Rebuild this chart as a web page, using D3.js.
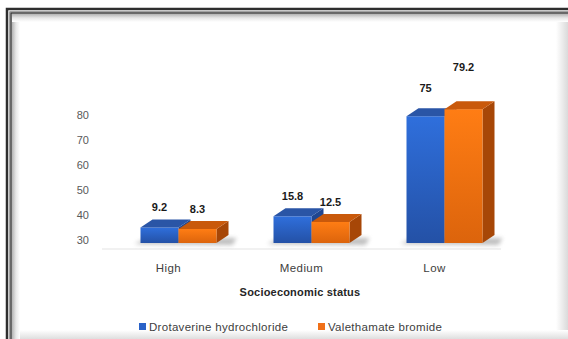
<!DOCTYPE html>
<html>
<head>
<meta charset="utf-8">
<script src="https://cdn.jsdelivr.net/npm/d3@7/dist/d3.min.js"></script>
<style>
  html, body { margin: 0; padding: 0; background: #fff; }
  svg { display: block; font-family: "Liberation Sans", Arial, sans-serif; }
</style>
</head>
<body>
<svg id="chart" width="568" height="339"></svg>
<script>
// Share of patients by socioeconomic status for each drug group
const categories = ["High", "Medium", "Low"];
const drotaverine = [9.2, 15.8, 75];
const valethamate = [8.3, 12.5, 79.2];
const seriesNames = ["Drotaverine hydrochloride", "Valethamate bromide"];
const tickLabels = [30, 40, 50, 60, 70, 80];
const axisTitle = "Socioeconomic status";

const svg = d3.select("#chart");
const W = 568, H = 339;

const defs = svg.append("defs");

// ---- gradients for the bar faces and the frame ----
function linGrad(id, x1, y1, x2, y2, stops) {
  const g = defs.append("linearGradient").attr("id", id)
    .attr("x1", x1).attr("y1", y1).attr("x2", x2).attr("y2", y2);
  stops.forEach(s => g.append("stop").attr("offset", s[0]).attr("stop-color", s[1]));
}
linGrad("blueFront", 0, 0, 0, 1, [[0, "#2f6fdc"], [1, "#2451a6"]]);
linGrad("orangeFront", 0, 0, 0, 1, [[0, "#ff7d14"], [1, "#dc640c"]]);
linGrad("frameLeft", 0, 0, 1, 0, [[0, "#b4b4b4"], [0.5, "#e8e8e8"], [1, "#ffffff"]]);
linGrad("frameTop", 0, 0, 0, 1, [[0, "#b4b4b4"], [0.5, "#e8e8e8"], [1, "#ffffff"]]);
linGrad("frameRight", 0, 0, 1, 0, [[0, "#ffffff"], [1, "#dadada"]]);
linGrad("frameBottom", 0, 0, 0, 1, [[0, "#ffffff"], [1, "#dedede"]]);

const blur = defs.append("filter").attr("id", "shadowBlur")
  .attr("x", "-20%").attr("y", "-100%").attr("width", "140%").attr("height", "300%");
blur.append("feGaussianBlur").attr("stdDeviation", 2);

const palette = [
  { front: "url(#blueFront)", top: "#2a55a6", side: "#1f4690", key: "#2a62c8" },
  { front: "url(#orangeFront)", top: "#c9590b", side: "#a74707", key: "#f07018" }
];

// ---- background and frame ----
svg.append("rect").attr("width", W).attr("height", H).attr("fill", "#fff");
svg.append("rect").attr("x", 556).attr("y", 14).attr("width", 12).attr("height", H - 14).attr("fill", "url(#frameRight)");
svg.append("rect").attr("x", 12).attr("y", 330).attr("width", W - 12).attr("height", 9).attr("fill", "url(#frameBottom)");
svg.append("rect").attr("x", 12).attr("y", 14).attr("width", 8).attr("height", H - 14).attr("fill", "url(#frameLeft)");
svg.append("rect").attr("x", 12).attr("y", 14).attr("width", W - 12).attr("height", 8).attr("fill", "url(#frameTop)");
// double dark rule along the left and top edges
const frame = svg.append("g").attr("fill", "none").attr("stroke-linecap", "square");
frame.append("path").attr("d", `M7,${H} V9 H${W}`).attr("stroke", "#2e2e2e").attr("stroke-width", 2.5);
frame.append("path").attr("d", `M9.6,${H} V11.6 H${W}`).attr("stroke", "#9a9a9a").attr("stroke-width", 1);
frame.append("path").attr("d", `M11,${H} V13 H${W}`).attr("stroke", "#3a3a3a").attr("stroke-width", 1.5);

// ---- scales ----
const baseY = 243;
const x = d3.scaleBand().domain(categories).range([102, 501]);
const y = d3.scaleLinear().domain([0, 100]).range([baseY, 74]);
const inner = d3.scaleBand().domain([0, 1]).range([0, 76]);
const depth = { dx: 12, dy: -8 };
const axisScale = d3.scaleLinear().domain([30, 80]).range([240, 115]);

// ---- y axis labels ----
const yAxis = svg.append("g").attr("transform", "translate(92,0)")
  .call(d3.axisLeft(axisScale).tickValues(tickLabels).tickSize(0).tickPadding(3).tickFormat(d3.format("d")));
yAxis.select(".domain").remove();
yAxis.selectAll("text").attr("font-size", 11).attr("fill", "#595959")
  .attr("font-family", "Liberation Sans, Arial, sans-serif");

// ---- floor line ----
svg.append("line").attr("x1", 102).attr("x2", 501).attr("y1", 249).attr("y2", 249)
  .attr("stroke", "#e3e3e3").attr("stroke-width", 1);

// ---- bars ----
const rows = categories.map((c, i) => ({ cat: c, values: [drotaverine[i], valethamate[i]] }));
const groups = svg.append("g").selectAll("g").data(rows).join("g")
  .attr("transform", d => `translate(${x(d.cat) + x.bandwidth() / 2 - 28},0)`);

// soft shadow under each pair of bars
groups.append("path")
  .attr("d", () => {
    const x0 = -6, x1 = inner.bandwidth() * 2 + depth.dx + 8;
    return `M${x0},${baseY + 1} L${x0 + depth.dx},${baseY - 5} L${x1},${baseY - 5} L${x1 - 4},${baseY + 2} Z`;
  })
  .attr("fill", "#8a8a8a").attr("opacity", 0.55).attr("filter", "url(#shadowBlur)");

groups.each(function (d) {
  const g = d3.select(this);
  d.values.forEach((v, s) => {
    const bx = inner(s), w = inner.bandwidth(), yt = y(v);
    const c = palette[s];
    // side face
    g.append("path")
      .attr("d", `M${bx + w},${yt} L${bx + w + depth.dx},${yt + depth.dy} L${bx + w + depth.dx},${baseY + depth.dy} L${bx + w},${baseY} Z`)
      .attr("fill", c.side);
    // front face
    g.append("rect").attr("x", bx).attr("y", yt).attr("width", w).attr("height", baseY - yt)
      .attr("fill", c.front);
    // top face
    g.append("path")
      .attr("d", `M${bx},${yt} L${bx + depth.dx},${yt + depth.dy} L${bx + w + depth.dx},${yt + depth.dy} L${bx + w},${yt} Z`)
      .attr("fill", c.top);
    // value label, lifted further above the taller bars
    g.append("text")
      .attr("x", bx + w / 2)
      .attr("y", yt - 16 - (v > 50 ? 8 + s * 14 : 0))
      .attr("text-anchor", "middle")
      .attr("font-size", 11).attr("font-weight", "bold").attr("fill", "#1a1a1a")
      .text(v);
  });
});

// ---- category labels ----
svg.append("g").selectAll("text").data(categories).join("text")
  .attr("x", d => x(d) + x.bandwidth() / 2)
  .attr("y", 272)
  .attr("text-anchor", "middle")
  .attr("font-size", 11.5).attr("fill", "#404040").attr("letter-spacing", 0.4)
  .text(d => d);

// ---- axis title ----
svg.append("text").attr("x", 300).attr("y", 296).attr("text-anchor", "middle")
  .attr("font-size", 11).attr("font-weight", "bold").attr("fill", "#262626").attr("letter-spacing", 0.2)
  .text(axisTitle);

// ---- legend ----
const legendX = [139, 318];
const legend = svg.append("g").selectAll("g").data(seriesNames).join("g")
  .attr("transform", (d, i) => `translate(${legendX[i]},327)`);
legend.append("rect").attr("x", 0).attr("y", -4).attr("width", 7).attr("height", 7)
  .attr("fill", (d, i) => palette[i].key);
legend.append("text").attr("x", 10).attr("y", 4)
  .attr("font-size", 11.5).attr("fill", "#404040").attr("letter-spacing", 0.3)
  .text(d => d);
</script>
</body>
</html>
